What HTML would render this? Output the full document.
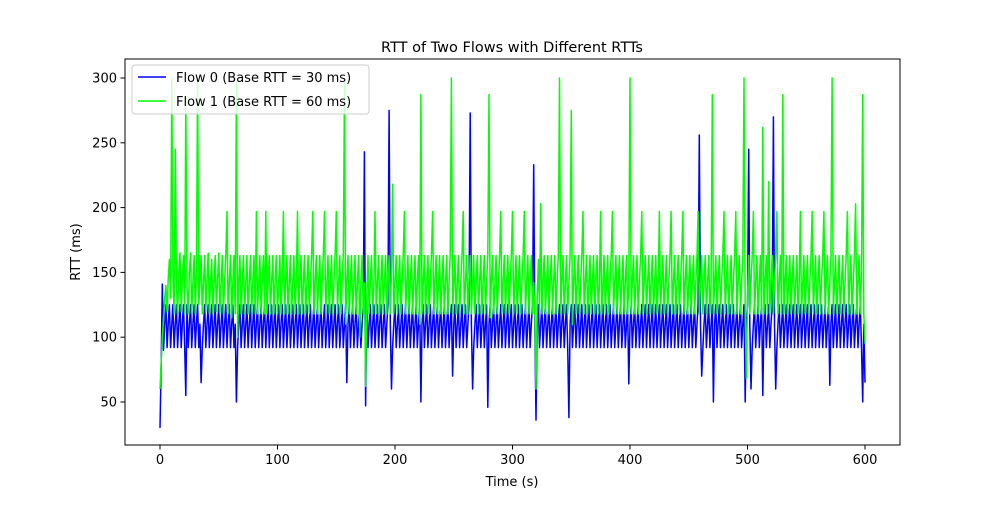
<!DOCTYPE html>
<html><head><meta charset="utf-8"><style>
body{margin:0;background:#fff;font-family:"Liberation Sans","DejaVu Sans",sans-serif}
svg text{font-family:"DejaVu Sans","Liberation Sans",sans-serif;fill:#000}
</style></head><body>
<svg id="chart" width="1000" height="500" xmlns="http://www.w3.org/2000/svg">
<rect width="1000" height="500" fill="#fff"/>
<text x="512" y="52" font-size="14.5" text-anchor="middle">RTT of Two Flows with Different RTTs</text>
<g id="plot"></g>
<rect x="125" y="59" width="775" height="386" fill="none" stroke="#000" stroke-width="1"/>
<g id="axes"></g>
<text x="512" y="486" font-size="13" text-anchor="middle">Time (s)</text>
<text transform="translate(80,252) rotate(-90)" font-size="13" text-anchor="middle">RTT (ms)</text>
<g>
<rect x="132" y="65" width="237" height="49" rx="3" fill="#fff" fill-opacity="0.8" stroke="#ccc"/>
<line x1="138" y1="77" x2="166" y2="77" stroke="#0000ff" stroke-width="1.5"/>
<text x="176" y="82" font-size="13">Flow 0 (Base RTT = 30 ms)</text>
<line x1="138" y1="101" x2="166" y2="101" stroke="#00ff00" stroke-width="1.5"/>
<text x="176" y="106" font-size="13">Flow 1 (Base RTT = 60 ms)</text>
</g>
</svg>
<script>
const step = 1;
const xTicks = [0,100,200,300,400,500,600];
const yTicks = [50,100,150,200,250,300];
const flow0 = [
30,80,141,90,110,125,92,110,125,92,110,125,92,110,125,92,110,125,92,110,125,92,55,125,92,110,125,92,110,125,
92,110,125,92,110,65,92,110,125,92,110,125,92,110,125,92,110,125,92,110,125,92,110,125,92,110,125,92,110,125,
92,110,125,92,110,50,92,110,125,92,110,125,92,110,125,92,110,125,92,110,125,92,110,125,92,110,125,92,110,125,
92,110,125,92,110,125,92,110,125,92,110,125,92,110,125,92,110,125,92,110,125,92,110,125,92,110,125,92,110,125,
92,110,125,92,110,125,92,110,125,92,110,125,92,110,125,92,110,125,92,110,125,92,110,125,92,110,125,92,110,125,
92,110,125,92,110,125,92,110,125,65,110,125,92,110,125,92,110,125,92,110,125,92,110,125,243,47,125,92,110,125,
92,110,125,92,110,125,92,110,125,92,110,125,92,110,125,275,110,60,92,110,125,92,110,125,92,110,125,92,110,125,
92,110,125,92,110,125,92,110,125,92,110,125,50,110,125,92,110,125,92,110,125,92,110,125,92,110,125,92,110,125,
92,110,125,92,110,125,92,110,125,70,110,125,92,110,125,92,110,125,92,110,125,92,110,125,273,110,60,92,110,125,
92,110,125,92,110,125,92,110,125,46,110,125,92,110,125,92,110,125,92,110,125,92,110,125,92,110,125,92,110,125,
92,110,125,92,110,125,92,110,125,92,110,125,92,110,125,92,110,125,233,110,36,110,125,92,110,125,92,110,125,92,
110,125,92,110,125,92,110,125,92,110,125,92,110,125,92,110,125,92,38,110,125,92,110,125,92,110,125,92,110,125,
92,110,125,92,110,125,92,110,125,92,110,125,92,110,125,92,110,125,92,110,125,92,110,125,92,110,125,92,110,125,
92,110,125,92,110,125,92,110,125,64,110,125,92,110,125,92,110,125,92,110,125,92,110,125,92,110,125,92,110,125,
92,110,125,92,110,125,92,110,125,92,110,125,92,110,125,92,110,125,92,110,125,92,110,125,92,110,125,92,110,125,
92,110,125,92,110,125,92,110,125,256,110,70,92,110,125,92,110,125,92,110,125,50,110,125,92,110,125,92,110,125,
92,110,125,92,110,125,92,110,125,92,110,125,92,110,125,92,110,125,50,110,125,245,110,60,92,110,125,92,110,125,
92,110,125,55,110,125,92,110,125,92,110,125,270,110,60,92,110,125,92,110,125,92,110,125,92,110,125,92,110,125,
92,110,125,92,110,125,92,110,125,92,110,125,92,110,125,92,110,125,92,110,125,92,110,125,92,110,125,92,110,125,
63,110,125,92,110,125,92,110,125,92,110,125,92,110,125,92,110,125,92,110,125,92,110,125,92,110,125,92,50,110,65];
const flow1 = [
60,80,100,115,130,140,120,145,160,130,300,150,118,245,140,118,150,165,120,145,163,118,285,140,118,150,165,118,142,163,
118,150,300,125,142,163,118,142,163,120,145,165,118,142,160,118,142,163,120,145,165,118,142,163,118,142,163,197,118,142,
163,115,142,163,118,297,100,142,163,118,142,163,118,142,163,118,142,163,118,142,163,118,197,118,142,163,118,142,163,118,
197,118,142,163,118,142,163,118,142,163,118,142,163,118,142,197,118,142,163,118,142,163,118,142,163,118,142,197,118,142,
163,118,142,163,118,142,163,118,142,163,197,118,142,163,118,142,163,118,142,163,197,118,142,163,118,142,163,118,142,163,
197,118,142,163,118,142,165,297,110,142,163,118,142,163,118,142,163,118,142,163,100,142,163,118,142,62,130,163,118,142,
163,118,142,197,118,142,163,118,142,163,118,142,163,118,142,163,118,150,218,118,142,163,118,142,163,118,142,163,197,118,
142,163,118,142,163,118,142,163,118,142,163,110,287,118,142,163,118,142,163,118,142,163,197,118,142,163,118,142,163,118,
142,163,118,142,163,118,142,163,300,118,142,163,118,142,163,118,142,163,197,118,142,163,118,142,163,118,142,163,118,142,
163,118,142,163,118,142,163,118,142,163,287,115,142,163,118,142,163,118,142,163,197,118,142,163,118,142,163,118,142,163,
197,118,142,163,118,142,163,118,142,163,197,118,142,163,118,142,163,118,142,120,60,130,160,120,203,118,142,163,118,142,
163,118,142,163,118,142,163,118,142,163,300,118,142,163,118,142,163,118,142,163,275,110,142,163,118,142,163,118,142,163,
197,118,142,163,118,142,163,118,142,163,118,142,163,118,142,197,118,142,163,118,142,163,118,142,163,197,118,142,163,118,
142,163,118,142,163,118,142,163,118,142,300,118,142,163,118,142,163,118,142,163,197,118,142,163,118,142,163,118,142,163,
118,142,163,118,142,197,118,142,163,118,142,163,118,142,163,197,118,142,163,118,142,163,118,142,163,197,118,142,163,118,
142,163,118,142,163,118,142,163,197,118,142,163,118,142,163,118,142,163,118,142,287,118,142,163,118,142,163,118,142,163,
197,118,142,163,118,142,163,118,142,163,197,118,142,163,118,142,163,300,118,68,130,163,118,142,163,197,118,142,163,118,
142,163,118,262,118,142,163,118,220,118,142,163,118,142,163,197,118,142,163,118,287,118,142,163,118,142,163,118,142,163,
118,142,163,118,142,197,118,142,163,118,142,163,118,142,163,197,118,142,163,118,142,163,118,142,163,197,118,142,163,118,
142,163,300,118,142,163,118,142,163,118,142,163,118,142,163,197,118,142,163,118,142,163,203,118,142,163,118,150,287,118,95];
const NS="http://www.w3.org/2000/svg";
const xs = t => 160 + (t/100)*117.5;
const ys = v => 402 - (v-50)*1.296;
const plot = document.getElementById('plot');
function series(data,color,name){
  const p=document.createElementNS(NS,'polyline');
  p.setAttribute('points',data.map((v,i)=>xs(i*step).toFixed(1)+','+ys(v).toFixed(1)).join(' '));
  p.setAttribute('fill','none');p.setAttribute('stroke',color);p.setAttribute('stroke-width','1.5');p.setAttribute('stroke-linejoin','round');
  
  
  plot.appendChild(p);
}
series(flow0,'#0000ff','flow0-line');
series(flow1,'#00ff00','flow1-line');
const axes=document.getElementById('axes');
xTicks.forEach(t=>{
  const l=document.createElementNS(NS,'line');
  l.setAttribute('x1',xs(t));l.setAttribute('x2',xs(t));l.setAttribute('y1',445);l.setAttribute('y2',449.5);l.setAttribute('stroke','#000');
  
  
  axes.appendChild(l);
  const tx=document.createElementNS(NS,'text');
  tx.setAttribute('x',xs(t));tx.setAttribute('y',464);tx.setAttribute('font-size','13');tx.setAttribute('text-anchor','middle');
  tx.textContent=t;
  
  
  axes.appendChild(tx);
});
yTicks.forEach(v=>{
  const l=document.createElementNS(NS,'line');
  l.setAttribute('x1',120.5);l.setAttribute('x2',125);l.setAttribute('y1',ys(v));l.setAttribute('y2',ys(v));l.setAttribute('stroke','#000');
  
  
  axes.appendChild(l);
  const tx=document.createElementNS(NS,'text');
  tx.setAttribute('x',117);tx.setAttribute('y',ys(v)+4.5);tx.setAttribute('font-size','13');tx.setAttribute('text-anchor','end');
  tx.textContent=v;
  
  
  axes.appendChild(tx);
});
</script>
</body></html>
